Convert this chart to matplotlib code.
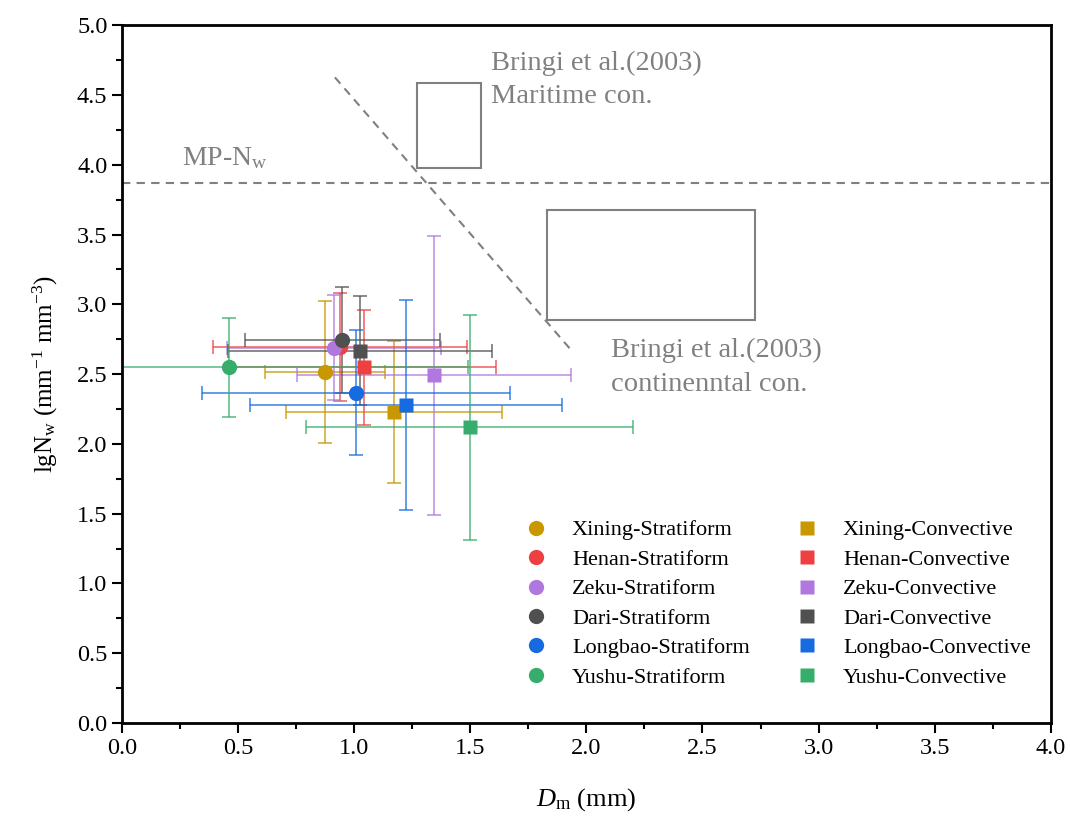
import matplotlib
matplotlib.use("Agg")
import matplotlib.pyplot as plt
from matplotlib.patches import Rectangle
from matplotlib.ticker import MultipleLocator

plt.rcParams['font.family'] = ['Liberation Serif', 'DejaVu Serif']
plt.rcParams['mathtext.fontset'] = 'custom'
plt.rcParams['mathtext.rm'] = 'Liberation Serif'
plt.rcParams['mathtext.it'] = 'Liberation Serif:italic'

# 站点与颜色
sites = ['Xining', 'Henan', 'Zeku', 'Dari', 'Longbao', 'Yushu']
colors = ['#C99700', '#EE4040', '#B077DE', '#505050', '#176BE1', '#37AD6B']

# 层状云 (圆点)
st_dm = [0.874, 0.939, 0.914, 0.949, 1.008, 0.462]
st_nw = [2.514, 2.694, 2.688, 2.743, 2.366, 2.548]
st_dm_err = [0.26, 0.545, 0.46, 0.42, 0.665, 1.03]
st_nw_err = [0.51, 0.385, 0.376, 0.378, 0.447, 0.353]

# 对流云 (方块)
cv_dm = [1.171, 1.041, 1.345, 1.025, 1.223, 1.498]
cv_nw = [2.230, 2.548, 2.493, 2.667, 2.278, 2.118]
cv_dm_err = [0.465, 0.57, 0.59, 0.567, 0.67, 0.705]
cv_nw_err = [0.51, 0.41, 1.0, 0.39, 0.75, 0.805]

# 参考线和框
mp_nw = 3.868
bringi_line_x = [0.917, 1.942]
bringi_line_y = [4.627, 2.658]
maritime_box = (1.27, 3.975, 0.275, 0.61)
continental_box = (1.83, 2.887, 0.895, 0.788)

fig = plt.figure(figsize=(10.7, 8.16), dpi=100)
ax = fig.add_axes([0.114, 0.114, 0.868, 0.855])

gray = '#808080'
ax.axhline(mp_nw, color=gray, ls=(0, (4, 3)), lw=1.5, zorder=1)
ax.plot(bringi_line_x, bringi_line_y, color=gray, ls=(0, (4, 3)), lw=1.5, zorder=1)
for b in [maritime_box, continental_box]:
    ax.add_patch(Rectangle(b[:2], b[2], b[3], fill=False, ec=gray, lw=1.5, zorder=1))

ax.text(0.26, 4.0, r'MP-N$_\mathrm{w}$', color=gray, fontsize=20)
ax.text(1.59, 4.44, 'Bringi et al.(2003)\nMaritime con.', color=gray, fontsize=20.5,
        linespacing=1.45)
ax.text(2.105, 2.38, 'Bringi et al.(2003)\ncontinenntal con.', color=gray, fontsize=20.5,
        linespacing=1.45)

handles_st = []
handles_cv = []
for i, s in enumerate(sites):
    ax.errorbar(st_dm[i], st_nw[i], xerr=st_dm_err[i], yerr=st_nw_err[i], fmt='none',
                ecolor=colors[i], elinewidth=1.1, capsize=5, capthick=1.1, alpha=0.85, zorder=2)
    ax.errorbar(cv_dm[i], cv_nw[i], xerr=cv_dm_err[i], yerr=cv_nw_err[i], fmt='none',
                ecolor=colors[i], elinewidth=1.1, capsize=5, capthick=1.1, alpha=0.85, zorder=2)
for i, s in enumerate(sites):
    h1, = ax.plot(st_dm[i], st_nw[i], 'o', color=colors[i], ms=11, mec='none', zorder=3,
                  label=s + '-Stratiform')
    h2, = ax.plot(cv_dm[i], cv_nw[i], 's', color=colors[i], ms=10, mec='none', zorder=3,
                  label=s + '-Convective')
    handles_st.append(h1)
    handles_cv.append(h2)

ax.set_xlim(0, 4.0)
ax.set_ylim(0, 5.0)
ax.xaxis.set_major_locator(MultipleLocator(0.5))
ax.xaxis.set_minor_locator(MultipleLocator(0.25))
ax.yaxis.set_major_locator(MultipleLocator(0.5))
ax.yaxis.set_minor_locator(MultipleLocator(0.25))
ax.tick_params(which='major', direction='out', length=7, width=1.5, labelsize=17.5)
ax.tick_params(which='minor', direction='out', length=4, width=1.5)
for sp in ax.spines.values():
    sp.set_linewidth(2)

ax.set_xlabel(r'$\mathit{D}_\mathrm{m}$ (mm)', fontsize=19, labelpad=20)
ax.set_ylabel(r'lgN$_\mathrm{w}$ (mm$^{-1}$ mm$^{-3}$)', fontsize=18, labelpad=12)

leg = ax.legend(handles=handles_st + handles_cv, ncol=2, frameon=False, fontsize=16,
                loc='lower right', bbox_to_anchor=(1.0, 0.022), markerscale=1.0,
                handlelength=1.2, handletextpad=1.0, columnspacing=2.0, labelspacing=0.4)

fig.savefig('out.png', dpi=100)
